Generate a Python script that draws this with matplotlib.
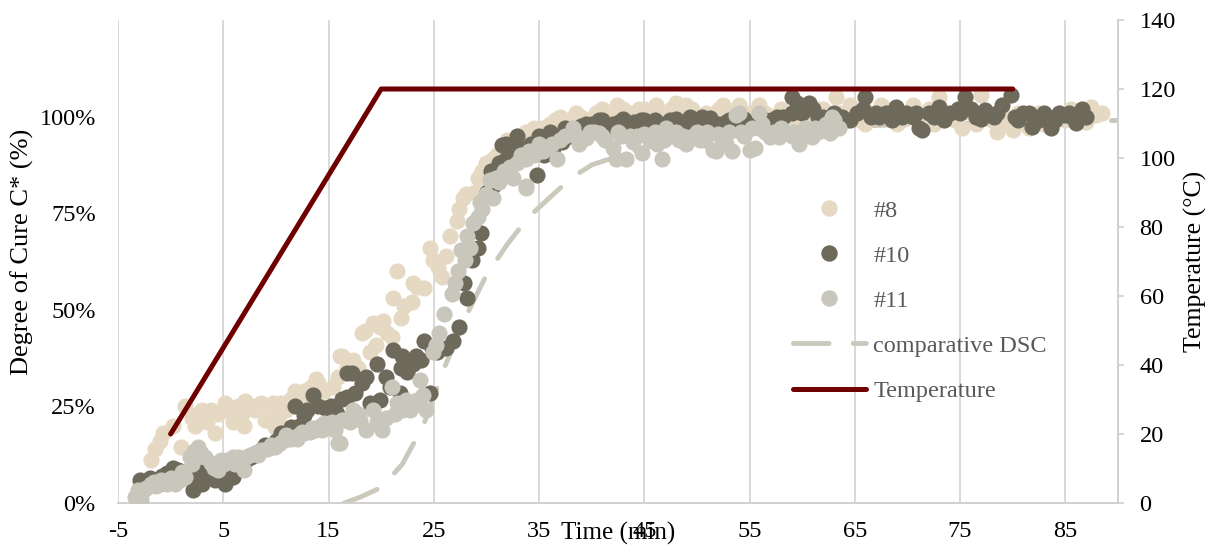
import matplotlib
matplotlib.use("Agg")
import matplotlib.pyplot as plt
from matplotlib.lines import Line2D

plt.rcParams['font.family'] = ['Liberation Serif', 'DejaVu Serif']
plt.rcParams['axes.unicode_minus'] = False

# sample #8 (time in min, degree of cure in %)
t8 = [-1.9, -1.5, -1.0, -0.7, 0.2, 1.0, 1.4, 2.0, 2.6, 3.0, 3.5, 4.2, 4.5, 5.2, 5.9, 6.4, 7.0, 7.1,
      7.8, 8.6, 9.0, 9.7, 9.9, 10.5, 11.0, 11.8, 12.3, 12.7, 13.3, 14.0, 14.6, 15.4, 15.9, 16.1, 16.3,
      17.8, 18.2, 18.9, 19.2, 19.9, 20.6, 21.0, 21.1, 21.5, 21.9, 22.2, 22.9, 23.4, 24.1, 24.6, 24.9,
      25.4, 25.8, 26.2, 26.5, 27.2, 27.4, 28.1, 28.9, 29.2, 30.0, 30.6, 31.5, 32.4, 33.0, 33.8, 34.5,
      35.3, 36.0, 36.7, 37.5, 38.5, 39.4, 40.4, 41.4, 42.4, 43.5, 44.5, 45.3, 46.1, 47.0, 48.0, 49.0,
      50.0, 50.9, 52.1, 53.0, 54.0, 55.0, 55.9, 57.0, 58.0, 59.0, 60.0, 61.0, 62.0, 63.2, 64.0, 65.0,
      66.0, 67.0, 68.0, 69.0, 70.0, 71.0, 72.0, 73.0, 74.0, 75.2, 76.0, 77.0, 78.0, 78.5, 79.0, 80.0,
      81.0, 82.0, 83.0, 84.0, 85.0, 86.0, 87.0, 87.4, 87.9, 88.5]
c8 = [11, 14, 16, 18, 20, 14.5, 25, 22, 23, 24, 21, 18, 23, 26, 21, 25, 20, 26.5,
      25, 26, 21.5, 26, 19.7, 26, 24, 29, 27, 29, 30, 31, 29, 30, 32.6, 38, 38,
      35, 44, 39, 46.5, 45.5, 44, 43, 53, 60, 48, 51, 52, 56, 55.6, 66, 63,
      61, 58.5, 64, 69, 73, 76, 80, 80.5, 84, 88, 89, 91, 93, 95, 96, 97,
      97, 98, 97, 99, 101, 99, 101, 100, 103, 101, 102, 100, 103, 101, 103.5, 103,
      100, 101, 102, 100, 103, 101, 103, 100, 102, 99, 101, 100, 102, 105, 99, 101,
      98, 100, 102, 98, 101, 99, 102, 105, 100, 97, 101, 105.6, 99, 96, 101, 96.5,
      99, 100, 98, 100, 99, 101, 98.5, 102.5, 100.4, 101]
t8_extra = [2.3, 3.8, 5.5, 6.8, 8.0, 9.3, 10.2, 11.4, 13.0, 13.8, 16.8, 17.3, 18.5, 19.5, 20.2, 23.0,
            27.8, 29.6, 31.0, 32.0, 33.4, 36.5, 37.0, 38.0, 39.0, 40.0, 41.0, 42.0, 43.0, 44.0, 45.0,
            46.5, 47.5, 48.5, 49.5, 51.5, 52.5, 53.5, 54.5, 56.5, 57.5, 58.5, 60.5, 61.5, 62.5, 63.5,
            64.5, 65.5, 66.5, 67.5, 68.5, 69.5, 70.5, 71.5, 72.5, 73.5, 74.5, 76.5, 77.5, 79.5, 80.5,
            81.5, 82.5, 83.5, 84.5, 85.5, 86.5]
c8_extra = [20, 24, 24, 23, 24, 25, 22, 27, 28, 32, 35, 37, 44.5, 41, 47, 57,
            79, 86, 90, 94, 95, 99, 100, 98, 100, 99, 102, 100, 102, 100, 102,
            100, 102, 100, 102, 100, 103, 101, 100, 101, 99, 100, 99, 102, 100, 101,
            103, 99, 101, 103, 100, 99, 103, 100, 98, 101, 99, 98, 100, 98, 101,
            97, 101, 99, 101, 102, 99]

# sample #10
t10 = [-2.9, -2.4, -1.5, -0.8, -0.3, 0.7, 1.5, 2.1, 2.3, 2.8, 3.5, 4.2, 5.2, 5.9, 6.8, 7.6, 8.6, 9.5,
       10.0, 10.5, 11.4, 11.8, 12.7, 13.5, 14.0, 14.7, 15.6, 15.8, 16.8, 16.8, 17.2, 17.5, 18.6, 18.9,
       19.6, 19.9, 20.5, 21.1, 21.8, 21.9, 22.0, 23.0, 23.8, 24.1, 24.6, 25.3, 26.2, 27.4, 27.9, 28.2,
       28.6, 29.2, 29.5, 30.1, 30.6, 31.5, 31.9, 31.9, 32.2, 32.9, 33.5, 34.8, 35.5, 36.3, 37.2, 38.0,
       38.7, 39.5, 40.7, 41.5, 42.6, 43.9, 44.7, 45.5, 46.5, 47.4, 48.3, 49.3, 50.2, 51.2, 52.0, 52.8,
       53.5, 55.0, 56.0, 57.0, 57.6, 59.0, 59.0, 59.5, 60.6, 61.5, 62.5, 63.8, 65.2, 66.0, 66.5, 67.3,
       68.0, 68.9, 69.9, 70.5, 71.1, 71.4, 72.0, 73.0, 74.0, 74.8, 75.5, 76.5, 77.4, 78.2, 79.0, 79.8,
       80.2, 81.0, 81.5, 81.8, 82.5, 83.0, 83.6, 84.4, 85.0, 85.6, 86.0, 86.6, 87.0]
c10 = [6, 5, 6, 7, 7.8, 8.5, 7, 3.4, 6, 8, 7, 6, 5, 6.7, 10, 12, 13.7, 14.5,
       16, 18, 19.7, 25, 22.8, 28, 25, 24.6, 24, 23, 33.6, 27.5, 33.6, 28.5, 32.6, 26,
       36, 26.7, 32.6, 39.6, 28.5, 35, 38, 36, 37, 42, 28.5, 39, 40, 45.5, 57, 53,
       63, 66, 70, 80.5, 82, 92.7, 93, 89, 89.5, 95, 91, 85, 90, 92, 93.4, 95,
       96, 98, 99, 97, 98.6, 97, 99, 98.3, 97.5, 99, 98, 100, 99, 99.6, 98, 98.6,
       99, 97.8, 98.5, 99, 100, 105, 101, 103.5, 103.5, 100, 99, 100, 101, 105, 100, 100,
       101, 102.5, 101, 100, 97, 96.5, 101, 102.5, 101, 102, 105, 100, 101.7, 100, 103, 105.6,
       100, 101, 101, 97.4, 99, 101, 97, 101, 100.5, 100, 98.3, 102, 100]
t10_extra = [-2.0, -1.1, 0.2, 1.1, 3.0, 4.8, 6.3, 7.2, 8.1, 9.0, 10.8, 12.2, 13.0, 15.2, 16.3, 18.2,
             20.8, 22.5, 23.3, 24.8, 26.8, 30.4, 31.2, 33.2, 34.2, 35.0, 36.0, 37.5, 39.0, 40.0, 41.0,
             42.0, 43.0, 44.0, 45.0, 46.0, 47.0, 48.0, 49.0, 50.5, 51.5, 53.0, 54.0, 54.5, 56.5, 58.2,
             60.0, 61.0, 62.0, 63.0, 64.5, 65.8, 67.0, 68.5, 69.5, 70.8, 72.5, 73.5, 75.0, 76.0, 77.0,
             78.5, 80.5, 82.0, 84.0, 85.3]
c10_extra = [6.5, 5, 9, 7.5, 5, 7, 9, 11, 13, 15, 17, 20, 24, 25, 27, 31,
             30, 34, 38, 40, 42, 86, 88, 92, 93, 95, 96, 97, 97.5, 98, 99,
             98, 99.5, 98.5, 99, 99, 98, 99.5, 98.5, 100, 98, 99, 98, 99.5, 99, 100,
             101, 102, 100, 101, 99, 102, 101, 99, 100, 101, 100, 99, 101, 102, 99.5,
             101, 99, 100, 99, 101]

# sample #11
t11 = [-3.4, -3.1, -2.8, -2.3, -1.9, -1.4, -0.9, -0.3, 0.4, 0.9, 1.4, 1.8, 2.2, 2.6, 3.3, 3.8, 4.5,
       5.0, 5.4, 5.9, 6.4, 7.0, 7.5, 8.0, 8.6, 9.2, 9.9, 10.4, 10.8, 11.3, 11.8, 12.2, 12.7, 13.2,
       13.7, 14.2, 14.6, 15.1, 15.6, 15.9, 16.1, 16.3, 16.5, 17.3, 18.0, 18.6, 19.2, 20.1, 20.5, 21.0,
       21.5, 22.0, 22.4, 23.0, 23.4, 23.7, 24.3, 24.9, 25.5, 26.0, 26.7, 27.0, 27.6, 28.0, 28.4, 28.7,
       29.2, 29.6, 30.3, 30.6, 31.2, 31.7, 31.9, 32.5, 32.9, 33.8, 33.8, 33.8, 34.5, 35.0, 35.8, 36.7,
       37.5, 38.2, 38.8, 39.5, 40.2, 40.7, 41.3, 42.0, 42.3, 42.8, 43.3, 43.9, 44.3, 44.8, 45.5, 46.2,
       46.7, 47.1, 47.7, 48.3, 49.0, 49.6, 50.3, 51.0, 51.5, 51.8, 52.4, 53.0, 53.3, 53.7, 54.0, 54.5,
       55.0, 55.5, 55.9, 55.9, 56.5, 56.9, 57.8, 58.5, 59.2, 59.7, 60.3, 60.9, 61.5, 62.0, 62.6, 62.8,
       63.5]
c11 = [1.5, 3.4, 0.8, 4, 5, 4.5, 6, 5, 5, 6, 6.7, 12, 13.5, 14.5, 12, 10.4, 8.5,
       10, 11, 12, 12, 8.5, 12.5, 13, 13.7, 14, 14.5, 15.5, 16.3, 16.5, 17, 17.5, 18, 18.5,
       19, 20, 20.7, 20, 19, 15.5, 15.5, 21.5, 21.5, 24, 21.5, 19, 24, 19, 22, 30,
       26, 24, 26.7, 25, 26.7, 31.8, 24, 39, 44, 49, 54, 57, 65.5, 63, 66, 72.5,
       74, 76, 83.6, 79, 83, 86, 86, 84, 88, 89, 82, 81.5, 90, 93, 92, 89,
       95, 97, 93, 94.5, 96, 95.8, 94, 92, 89, 95, 89, 93.4, 95, 90.6, 94, 93,
       89, 97, 95, 94, 93, 95, 94, 96, 91.4, 91, 94.5, 96, 91, 100.5, 101, 95,
       91.4, 92, 97, 101, 96, 94.7, 94.7, 95.8, 96, 93, 97, 94.7, 96, 97, 95.8, 100,
       97]
t11_extra = [-2.6, -1.6, 0.0, 1.1, 2.0, 2.9, 4.1, 4.8, 6.1, 6.7, 7.2, 8.3, 9.5, 10.1, 11.0, 12.0,
             12.5, 13.4, 14.4, 15.3, 17.0, 17.8, 19.6, 21.3, 22.7, 24.0, 25.2, 27.3, 28.2, 29.4, 30.0,
             30.9, 32.2, 33.3, 34.0, 35.4, 36.2, 37.0, 38.5, 39.8, 41.0, 42.5, 43.6, 45.0, 46.0, 46.9,
             48.0, 48.7, 50.0, 50.8, 52.0, 52.8, 54.2, 55.2, 56.2, 57.3, 58.0, 59.0, 60.0, 61.2, 62.3,
             63.0]
c11_extra = [3, 5.5, 6.5, 8, 10, 13, 9, 11, 10, 11, 12, 12.5, 15, 15, 17.5, 16.5,
             18.5, 19.5, 19, 21, 21, 23, 21, 23, 24, 28, 41, 60, 69, 78, 80,
             84, 87, 90, 91, 91, 93, 94, 95, 96, 95, 96, 95, 95.5, 96, 94,
             96, 95, 96, 94, 95.5, 93, 96, 97, 98, 96, 97, 95, 95.5, 97, 98,
             99]

# comparative DSC curve
t_dsc = [16.5, 18, 20, 22, 24, 26, 28, 30, 32, 34, 36, 38, 40, 45, 50, 55, 60, 70, 80, 90]
c_dsc = [0, 1.5, 4, 10, 20, 35, 48, 59, 67, 74, 79, 84, 87.5, 92, 94.5, 96, 97, 98, 98.5, 99]

# oven temperature profile
t_temp = [0, 20, 80]
temp = [20, 120, 120]

x_ticks = [-5, 5, 15, 25, 35, 45, 55, 65, 75, 85]
cure_ticks = [0, 25, 50, 75, 100]
temp_ticks = [0, 20, 40, 60, 80, 100, 120, 140]

fig = plt.figure(figsize=(12.12, 5.46), dpi=100)
ax = fig.add_axes([118 / 1212, 43 / 546, 1000 / 1212, 483 / 546])
ax2 = ax.twinx()

ms = 135
ax.plot(t_dsc, c_dsc, color='#CBC8BC', lw=3.5, linestyle=(0, (7.3, 5)),
        dash_capstyle='round', zorder=2)
ax.scatter(t8 + t8_extra, c8 + c8_extra, s=ms, color='#E6D9C3', linewidths=0, zorder=3)
ax.scatter(t10 + t10_extra, c10 + c10_extra, s=ms, color='#6D6A5B', linewidths=0, zorder=4)
ax.scatter(t11 + t11_extra, c11 + c11_extra, s=ms, color='#C9C7BC', linewidths=0, zorder=5)
ax2.plot(t_temp, temp, color='#6E0000', lw=3.6, solid_capstyle='round')

ax.set_xlim(-5, 90)
ax.set_ylim(0, 125)
ax2.set_ylim(0, 140)

ax.set_xticks(x_ticks)
ax.set_xticklabels([str(v) for v in x_ticks])
ax.set_yticks(cure_ticks)
ax.set_yticklabels([f'{v}%' for v in cure_ticks])
ax2.set_yticks(temp_ticks)

ax.grid(axis='x', color='#D9D9D9', lw=1.4)
ax.set_axisbelow(True)
for s in ['top', 'left', 'right']:
    ax.spines[s].set_visible(False)
for s in ['top', 'left', 'bottom']:
    ax2.spines[s].set_visible(False)
ax.spines['bottom'].set_color('#D0D0D0')
ax.spines['bottom'].set_linewidth(1.4)
ax2.spines['right'].set_color('#D0D0D0')
ax2.spines['right'].set_linewidth(1.4)

ax.tick_params(axis='x', length=0, pad=13, labelsize=17.5)
ax.tick_params(axis='y', length=0, pad=16, labelsize=17.5)
ax2.tick_params(axis='y', length=4.5, width=1.2, color='#D0D0D0', pad=11, labelsize=17.5)

ax.set_xlabel('Time (min)', fontsize=18)
ax.xaxis.set_label_coords(0.5, -0.064)
ax.xaxis.label.set_va('center')
ax.set_ylabel('Degree of Cure C* (%)', fontsize=19)
ax.yaxis.set_label_coords(-0.096, 0.52)
ax.yaxis.label.set_va('center')
ax2.set_ylabel('Temperature (°C)', fontsize=18.5)
ax2.yaxis.set_label_coords(1.077, 0.5)
ax2.yaxis.label.set_va('center')

handles = [
    Line2D([], [], ls='none', marker='o', ms=10.8, color='#E6D9C3'),
    Line2D([], [], ls='none', marker='o', ms=10.8, color='#6D6A5B'),
    Line2D([], [], ls='none', marker='o', ms=10.8, color='#C9C7BC'),
    Line2D([], [], color='#CBC8BC', lw=3.5, linestyle=(0, (7.3, 5)), dash_capstyle='round'),
    Line2D([], [], color='#6E0000', lw=3.6, solid_capstyle='round'),
]
labels = ['#8', '#10', '#11', 'comparative DSC', 'Temperature']
leg = ax2.legend(handles, labels, loc='upper left', bbox_to_anchor=(0.675, 0.628),
                 frameon=False, borderaxespad=0, borderpad=0, handlelength=3.0,
                 handletextpad=0.3, labelspacing=0.95, fontsize=17.5)
for txt in leg.get_texts():
    txt.set_color('#595959')

fig.savefig('out.png', dpi=100)
